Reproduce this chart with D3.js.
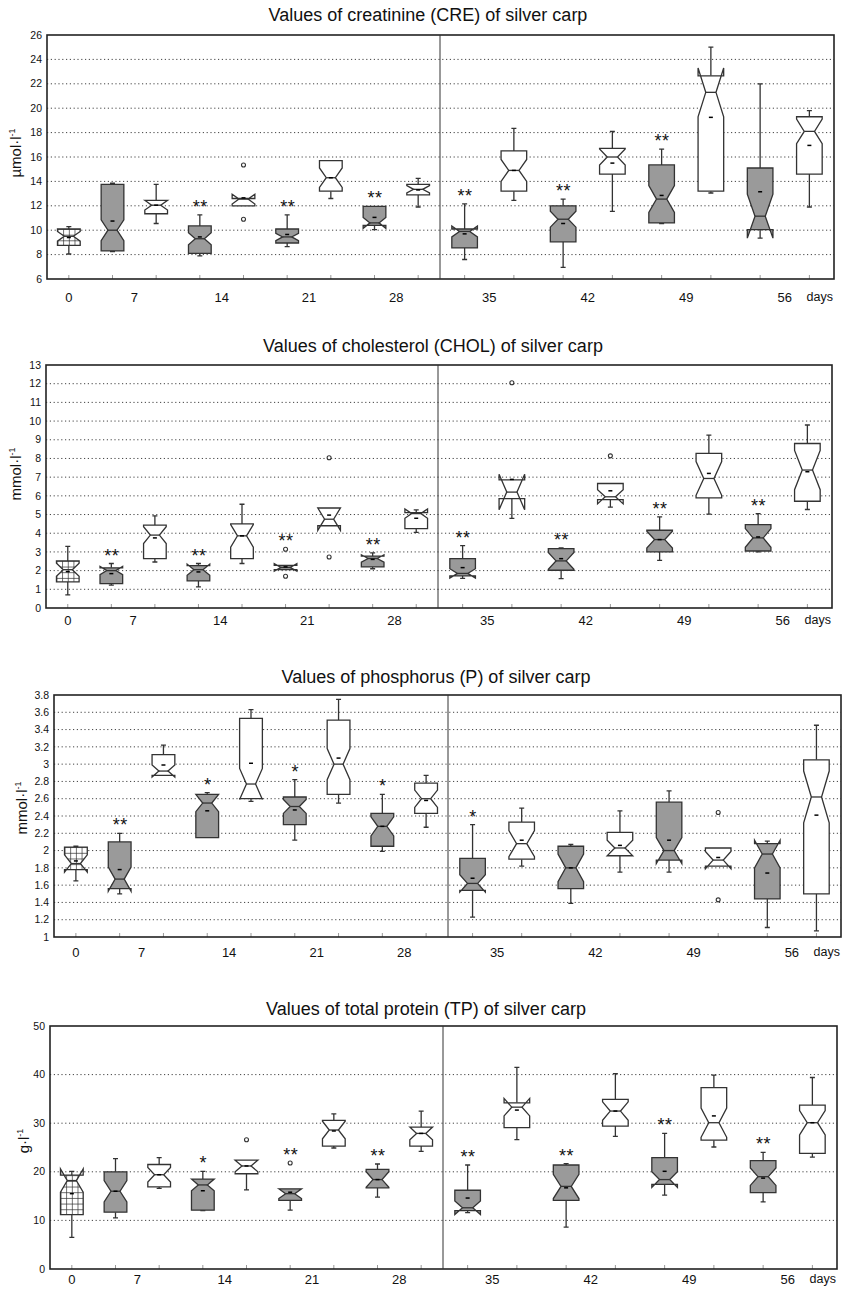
<!DOCTYPE html>
<html>
<head>
<meta charset="utf-8">
<script src="https://cdn.jsdelivr.net/npm/d3@7"></script>
<style>
  body { margin: 0; background: #fff; }
  text { font-family: "Liberation Sans", Arial, sans-serif; fill: #111; }
</style>
</head>
<body>
<svg width="843" height="1289"></svg>
<script>
// each box: [min, q1, median, q3, max, mean, notch]
const creBoxes = [
  [8.05, 8.75, 9.5, 10.1, 10.3, 9.4, 0.4],
  [8.25, 8.3, 10.0, 13.75, 13.85, 10.75, 0.85],
  [10.55, 11.35, 12.05, 12.45, 13.75, 12.05, 0.4],
  [7.9, 8.1, 9.3, 10.35, 11.25, 9.45, 0.5],
  [12.0, 12.0, 12.55, 12.6, 12.6, 12.65, 0.4],
  [8.65, 8.95, 9.45, 10.1, 11.25, 9.65, 0.3],
  [12.6, 13.2, 14.3, 15.7, 15.7, 14.3, 0.8],
  [10.05, 10.4, 10.6, 11.95, 11.95, 11.05, 0.45],
  [11.9, 12.9, 13.35, 13.75, 14.25, 13.3, 0.3],
  [7.6, 8.55, 9.9, 10.1, 12.15, 9.7, 0.45],
  [12.45, 13.2, 14.9, 16.5, 18.35, 14.9, 0.9],
  [6.95, 9.05, 10.9, 12.0, 12.55, 10.55, 0.65],
  [11.55, 14.6, 16.0, 16.7, 18.1, 15.5, 0.65],
  [10.55, 10.6, 12.55, 15.35, 16.65, 12.85, 1.1],
  [13.05, 13.2, 21.3, 22.65, 25.0, 19.25, 2.0],
  [9.35, 10.05, 11.15, 15.1, 22.0, 13.15, 1.8],
  [11.9, 14.6, 18.1, 19.3, 19.8, 16.95, 1.0]
];
const creOutliers = [[4, 15.35], [4, 10.9]];
const creStars = ["", "", "", "**", "", "**", "", "**", "", "**", "", "**", "", "**", "", "", ""];

const cholBoxes = [
  [0.7, 1.4, 2.05, 2.52, 3.3, 1.95, 0.35],
  [1.22, 1.3, 2.0, 2.15, 2.38, 1.84, 0.22],
  [2.46, 2.64, 3.9, 4.43, 4.93, 3.75, 0.45],
  [1.13, 1.45, 2.05, 2.27, 2.38, 1.93, 0.3],
  [2.38, 2.64, 3.86, 4.5, 5.55, 3.86, 0.6],
  [2.05, 2.05, 2.17, 2.28, 2.28, 2.2, 0.2],
  [4.4, 4.4, 4.75, 5.35, 5.35, 4.97, 0.6],
  [2.1, 2.2, 2.65, 2.77, 2.95, 2.6, 0.2],
  [4.05, 4.25, 5.05, 5.1, 5.25, 4.8, 0.25],
  [1.58, 1.72, 1.85, 2.64, 3.34, 2.16, 0.25],
  [4.8, 5.85, 6.2, 6.85, 6.85, 6.88, 0.95],
  [1.57, 2.02, 2.52, 3.18, 3.21, 2.64, 0.45],
  [5.4, 5.8, 5.95, 6.66, 6.66, 6.27, 0.38],
  [2.55, 3.0, 3.66, 4.16, 4.88, 3.66, 0.45],
  [5.02, 5.89, 6.93, 8.27, 9.25, 7.2, 0.9],
  [3.0, 3.05, 3.75, 4.46, 5.05, 3.8, 0.5],
  [5.27, 5.71, 7.38, 8.8, 9.79, 7.29, 1.05]
];
const cholOutliers = [[5, 3.14], [5, 1.7], [6, 8.04], [6, 2.73], [10, 12.05], [12, 8.14]];
const cholStars = ["", "**", "", "**", "", "**", "", "**", "", "**", "", "**", "", "**", "", "**", ""];

const pBoxes = [
  [1.65, 1.78, 1.85, 2.04, 2.05, 1.88, 0.1],
  [1.5, 1.56, 1.67, 2.1, 2.2, 1.78, 0.14],
  [2.87, 2.87, 2.92, 3.11, 3.22, 2.99, 0.07],
  [2.15, 2.15, 2.55, 2.65, 2.67, 2.46, 0.1],
  [2.57, 2.6, 2.77, 3.53, 3.63, 3.01, 0.18],
  [2.12, 2.3, 2.51, 2.62, 2.82, 2.47, 0.08],
  [2.55, 2.65, 3.0, 3.51, 3.75, 3.07, 0.18],
  [1.99, 2.05, 2.28, 2.43, 2.65, 2.28, 0.11],
  [2.27, 2.43, 2.6, 2.78, 2.87, 2.58, 0.1],
  [1.23, 1.54, 1.62, 1.91, 2.3, 1.68, 0.1],
  [1.82, 1.9, 2.08, 2.33, 2.49, 2.12, 0.15],
  [1.39, 1.56, 1.8, 2.05, 2.07, 1.8, 0.16],
  [1.75, 1.94, 2.03, 2.21, 2.46, 2.06, 0.09],
  [1.75, 1.89, 2.0, 2.56, 2.69, 2.12, 0.15],
  [1.82, 1.82, 1.89, 2.03, 2.03, 1.92, 0.1],
  [1.11, 1.44, 1.96, 2.08, 2.11, 1.74, 0.16],
  [1.07, 1.5, 2.62, 3.05, 3.45, 2.41, 0.3]
];
const pOutliers = [[14, 2.44], [14, 1.43]];
const pStars = ["", "**", "", "*", "", "*", "", "*", "", "*", "", "", "", "", "", "", ""];

const tpBoxes = [
  [6.5, 11.2, 18.2, 19.3, 20.1, 15.5, 2.4],
  [10.5, 11.7, 16.0, 20.0, 22.7, 16.0, 2.2],
  [16.6, 16.9, 19.4, 21.5, 22.9, 19.4, 1.5],
  [12.0, 12.1, 17.3, 18.5, 20.1, 16.1, 1.2],
  [16.3, 19.6, 21.2, 22.4, 22.4, 21.2, 1.2],
  [12.1, 14.1, 15.5, 16.5, 16.5, 15.8, 1.0],
  [24.9, 25.3, 28.6, 30.6, 31.9, 28.4, 1.8],
  [14.8, 16.7, 18.4, 20.5, 21.6, 18.4, 1.6],
  [24.2, 25.3, 27.9, 29.2, 32.5, 27.9, 1.3],
  [11.6, 12.0, 12.6, 16.2, 21.4, 14.6, 1.4],
  [26.6, 29.1, 33.3, 34.2, 41.5, 32.7, 1.8],
  [8.6, 14.1, 17.0, 21.4, 21.7, 16.7, 2.5],
  [27.3, 29.4, 32.5, 34.9, 40.2, 32.5, 1.9],
  [15.2, 17.4, 18.4, 22.9, 27.9, 20.1, 1.6],
  [25.1, 26.5, 30.1, 37.3, 39.9, 31.5, 3.0],
  [13.8, 15.7, 19.0, 22.3, 24.0, 18.7, 1.8],
  [23.0, 23.8, 30.1, 33.7, 39.4, 30.1, 2.5]
];
const tpOutliers = [[4, 26.6], [5, 21.8]];
const tpStars = ["", "", "", "*", "", "**", "", "**", "", "**", "", "**", "", "**", "", "**", ""];

const fills = ["check", "gray", "white", "gray", "white", "gray", "white", "gray", "white",
               "gray", "white", "gray", "white", "gray", "white", "gray", "white"];
const dayLabels = ["0", "7", "14", "21", "28", "35", "42", "49", "56"];
const dayPairs = [[0, 0], [1, 2], [3, 4], [5, 6], [7, 8], [9, 10], [11, 12], [13, 14], [15, 16]];

const panels = [
  { title: "Values of creatinine (CRE) of silver carp", unit: "µmol·l", boxes: creBoxes,
    outliers: creOutliers, stars: creStars, domain: [6, 26], step: 2,
    left: 47, right: 834, top: 35, bottom: 279, div: 440,
    titleX: 428, titleY: 21, xlabY: 302, ylabX: 21, ylabY: 153 },
  { title: "Values of cholesterol (CHOL) of silver carp", unit: "mmol·l", boxes: cholBoxes,
    outliers: cholOutliers, stars: cholStars, domain: [0, 13], step: 1,
    left: 46, right: 832, top: 365, bottom: 608, div: 438,
    titleX: 433, titleY: 352, xlabY: 625, ylabX: 21, ylabY: 474 },
  { title: "Values of phosphorus (P) of silver carp", unit: "mmol·l", boxes: pBoxes,
    outliers: pOutliers, stars: pStars, domain: [1, 3.8], step: 0.2,
    left: 54, right: 841, top: 695, bottom: 937, div: 448,
    titleX: 436, titleY: 683, xlabY: 957, ylabX: 27, ylabY: 808 },
  { title: "Values of total protein (TP) of silver carp", unit: "g·l", boxes: tpBoxes,
    outliers: tpOutliers, stars: tpStars, domain: [0, 50], step: 10,
    left: 50, right: 837, top: 1026, bottom: 1269, div: 443,
    titleX: 426, titleY: 1015, xlabY: 1284, ylabX: 29, ylabY: 1141 }
];

const svg = d3.select("svg");
const defs = svg.append("defs");
const stroke = "#333";

panels.forEach((p, pi) => {
  const g = svg.append("g");

  const y = d3.scaleLinear().domain(p.domain).range([p.bottom, p.top]);
  const xl = d3.scaleBand().domain(d3.range(0, 9)).range([p.left, p.div]);
  const xr = d3.scaleBand().domain(d3.range(9, 17)).range([p.div, p.right]);
  const cx = i => { return i < 9 ? xl(i) + xl.bandwidth() / 2 : xr(i) + xr.bandwidth() / 2; };
  const hw = i => { return (i < 9 ? xl.bandwidth() : xr.bandwidth()) * 0.26; };

  const nTicks = Math.round((p.domain[1] - p.domain[0]) / p.step);
  const ticks = d3.range(nTicks + 1).map(k => { return +(p.domain[0] + k * p.step).toFixed(2); });

  // grid
  g.append("g")
    .selectAll("line")
    .data(ticks.slice(1, -1))
    .enter().append("line")
      .attr("x1", p.left).attr("x2", p.right)
      .attr("y1", d => { return y(d); }).attr("y2", d => { return y(d); })
      .attr("stroke", "#444")
      .attr("stroke-width", 1)
      .attr("stroke-dasharray", "1.2,2.6");

  // y tick labels
  g.append("g")
    .selectAll("text")
    .data(ticks)
    .enter().append("text")
      .attr("x", p.left - 5)
      .attr("y", d => { return y(d); })
      .attr("dy", "0.35em")
      .attr("text-anchor", "end")
      .style("font-size", "10.5px")
      .text(d => { return String(d); });

  // x minor ticks
  g.append("g")
    .selectAll("line")
    .data(d3.range(17))
    .enter().append("line")
      .attr("x1", d => { return cx(d); }).attr("x2", d => { return cx(d); })
      .attr("y1", p.bottom).attr("y2", p.bottom - 4)
      .attr("stroke", "#999");

  // checkered pattern for the control box
  const c = p.boxes[0];
  const pat = defs.append("pattern")
      .attr("id", "check" + pi)
      .attr("patternUnits", "userSpaceOnUse")
      .attr("x", cx(0) - hw(0))
      .attr("y", y(c[3]))
      .attr("width", hw(0) / 2)
      .attr("height", hw(0) / 2);
  pat.append("rect").attr("width", hw(0) / 2).attr("height", hw(0) / 2).attr("fill", "#fff");
  pat.append("path")
      .attr("d", `M0,0V${hw(0) / 2}M0,0H${hw(0) / 2}`)
      .attr("stroke", stroke).attr("stroke-width", 1.4).attr("fill", "none");

  // boxes
  const box = g.append("g")
    .selectAll("g")
    .data(p.boxes)
    .enter().append("g");

  // whiskers
  box.append("path")
      .attr("d", (d, i) => {
        const x = cx(i);
        let s = "";
        if (d[4] > d[3]) s += `M${x},${y(d[3])}V${y(d[4])}M${x - 2.5},${y(d[4])}H${x + 2.5}`;
        if (d[0] < d[1]) s += `M${x},${y(d[1])}V${y(d[0])}M${x - 2.5},${y(d[0])}H${x + 2.5}`;
        return s || "M0,0";
      })
      .attr("stroke", stroke)
      .attr("stroke-width", 1.3)
      .attr("fill", "none");

  box.append("path")
      .attr("d", (d, i) => {
        const x = cx(i), w = hw(i), k = 0.4;
        const q1 = y(d[1]), md = y(d[2]), q3 = y(d[3]);
        const nt = y(d[2] + d[6]), nb = y(d[2] - d[6]);
        return `M${x - w},${q3}L${x - w},${nt}L${x - w * k},${md}L${x - w},${nb}L${x - w},${q1}` +
               `L${x + w},${q1}L${x + w},${nb}L${x + w * k},${md}L${x + w},${nt}L${x + w},${q3}Z`;
      })
      .attr("fill", (d, i) => {
        return fills[i] === "gray" ? "#9a9a9a" : fills[i] === "check" ? `url(#check${pi})` : "#fff";
      })
      .attr("stroke", stroke)
      .attr("stroke-width", 1.3)
      .attr("stroke-linejoin", "miter");

  // median
  box.append("line")
      .attr("x1", (d, i) => { return cx(i) - hw(i) * 0.4; })
      .attr("x2", (d, i) => { return cx(i) + hw(i) * 0.4; })
      .attr("y1", d => { return y(d[2]); }).attr("y2", d => { return y(d[2]); })
      .attr("stroke", stroke)
      .attr("stroke-width", 1.3);

  // mean
  box.append("line")
      .attr("x1", (d, i) => { return cx(i) - 2; })
      .attr("x2", (d, i) => { return cx(i) + 2; })
      .attr("y1", d => { return y(d[5]); }).attr("y2", d => { return y(d[5]); })
      .attr("stroke", "#000")
      .attr("stroke-width", 1.5);

  // outliers
  g.append("g")
    .selectAll("circle")
    .data(p.outliers)
    .enter().append("circle")
      .attr("cx", d => { return cx(d[0]); })
      .attr("cy", d => { return y(d[1]); })
      .attr("r", 2)
      .attr("fill", "#fff")
      .attr("stroke", stroke)
      .attr("stroke-width", 1.1);

  // significance stars
  g.append("g")
    .selectAll("text")
    .data(p.stars)
    .enter().append("text")
      .attr("x", (d, i) => { return cx(i) + 0.5; })
      .attr("y", (d, i) => {
        const b = p.boxes[i];
        let top = Math.max(b[4], b[3], b[2] + b[6]);
        p.outliers.forEach(o => { if (o[0] === i) top = Math.max(top, o[1]); });
        return y(top) - 2;
      })
      .attr("text-anchor", "middle")
      .style("font-size", "18px")
      .style("letter-spacing", "0.5px")
      .text(d => { return d; });

  // frame and divider
  g.append("rect")
      .attr("x", p.left).attr("y", p.top)
      .attr("width", p.right - p.left).attr("height", p.bottom - p.top)
      .attr("fill", "none")
      .attr("stroke", "#222")
      .attr("stroke-width", 1.6);
  g.append("line")
      .attr("x1", p.div).attr("x2", p.div)
      .attr("y1", p.top).attr("y2", p.bottom)
      .attr("stroke", "#333")
      .attr("stroke-width", 1);

  // x labels
  g.append("g")
    .selectAll("text")
    .data(dayLabels)
    .enter().append("text")
      .attr("x", (d, i) => { return (cx(dayPairs[i][0]) + cx(dayPairs[i][1])) / 2; })
      .attr("y", p.xlabY)
      .attr("text-anchor", "middle")
      .style("font-size", "13px")
      .text(d => { return d; });
  g.append("text")
      .attr("x", p.right - 1)
      .attr("y", p.xlabY - 1)
      .attr("text-anchor", "end")
      .style("font-size", "12.5px")
      .text("days");

  // title
  g.append("text")
      .attr("x", p.titleX)
      .attr("y", p.titleY)
      .attr("text-anchor", "middle")
      .style("font-size", "18px")
      .text(p.title);

  // y label
  const yl = g.append("text")
      .attr("transform", `translate(${p.ylabX},${p.ylabY}) rotate(-90)`)
      .attr("text-anchor", "middle")
      .style("font-size", "15px");
  yl.append("tspan").text(p.unit);
  yl.append("tspan").attr("dy", -6).style("font-size", "9px").text("-1");
});
</script>
</body>
</html>
